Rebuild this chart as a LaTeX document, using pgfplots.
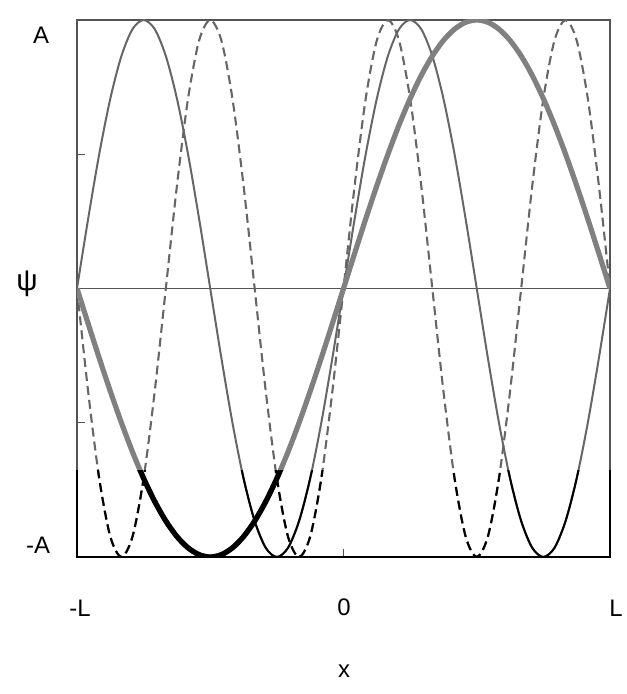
\documentclass[border=0pt]{standalone}
\usepackage{fontspec}
\setmainfont{Liberation Sans}
\usepackage{pgfplots}
\pgfplotsset{compat=1.18}
\usepackage{pgfplotstable}

% Standing-wave modes on [-L, L], amplitude A (x in units of L, psi in units of A)
\pgfplotstableread{
x       n1      n2      n3
-1      0       0       0
-0.9583 -0.1305 0.2588  -0.3827
-0.9167 -0.2588 0.5     -0.7071
-0.875  -0.3827 0.7071  -0.9239
-0.8333 -0.5    0.8660  -1
-0.7917 -0.6088 0.9659  -0.9239
-0.75   -0.7071 1       -0.7071
-0.7083 -0.7934 0.9659  -0.3827
-0.6667 -0.8660 0.8660  0
-0.625  -0.9239 0.7071  0.3827
-0.5833 -0.9659 0.5     0.7071
-0.5417 -0.9914 0.2588  0.9239
-0.5    -1      0       1
-0.4583 -0.9914 -0.2588 0.9239
-0.4167 -0.9659 -0.5    0.7071
-0.375  -0.9239 -0.7071 0.3827
-0.3333 -0.8660 -0.8660 0
-0.2917 -0.7934 -0.9659 -0.3827
-0.25   -0.7071 -1      -0.7071
-0.2083 -0.6088 -0.9659 -0.9239
-0.1667 -0.5    -0.8660 -1
-0.125  -0.3827 -0.7071 -0.9239
-0.0833 -0.2588 -0.5    -0.7071
-0.0417 -0.1305 -0.2588 -0.3827
0       0       0       0
0.0417  0.1305  0.2588  0.3827
0.0833  0.2588  0.5     0.7071
0.125   0.3827  0.7071  0.9239
0.1667  0.5     0.8660  1
0.2083  0.6088  0.9659  0.9239
0.25    0.7071  1       0.7071
0.2917  0.7934  0.9659  0.3827
0.3333  0.8660  0.8660  0
0.375   0.9239  0.7071  -0.3827
0.4167  0.9659  0.5     -0.7071
0.4583  0.9914  0.2588  -0.9239
0.5     1       0       -1
0.5417  0.9914  -0.2588 -0.9239
0.5833  0.9659  -0.5    -0.7071
0.625   0.9239  -0.7071 -0.3827
0.6667  0.8660  -0.8660 0
0.7083  0.7934  -0.9659 0.3827
0.75    0.7071  -1      0.7071
0.7917  0.6088  -0.9659 0.9239
0.8333  0.5     -0.8660 1
0.875   0.3827  -0.7071 0.9239
0.9167  0.2588  -0.5    0.7071
0.9583  0.1305  -0.2588 0.3827
1       0       0       0
}\modes

\definecolor{thickgray}{gray}{0.50}
\definecolor{thingray}{gray}{0.40}
\definecolor{framegray}{gray}{0.33}

\begin{document}
\begin{tikzpicture}[x=1bp,y=1bp]
\path[use as bounding box] (-77,-137) rectangle (550,557);
\begin{axis}[
  at={(0,0)}, anchor=south west,
  scale only axis, width=533bp, height=537bp,
  xmin=-1, xmax=1, ymin=-1, ymax=1,
  clip mode=individual,
  axis line style={draw=framegray, line width=1.3bp},
  xtick={0}, ytick={-0.5,0.5},
  xticklabels={}, yticklabels={},
  tick align=inside, tick pos=left,
  major tick length=8bp,
  tick style={framegray, line width=1.3bp},
]
% zero line
\addplot[framegray, line width=1.5bp] coordinates {(-1,0) (1,0)};
% three modes
\addplot[thingray, line width=2.1bp, dash pattern=on 9bp off 5bp, smooth] table[y=n3] {\modes};
\addplot[thingray, line width=2bp, smooth] table[y=n2] {\modes};
\addplot[thickgray, line width=5.2bp, smooth] table[y=n1] {\modes};
% darker lower band
\begin{scope}
  \clip (axis cs:-1.2,-1.2) rectangle (axis cs:1.2,-0.676);
  \addplot[black, line width=2.1bp, dash pattern=on 9bp off 5bp, smooth] table[y=n3] {\modes};
  \addplot[black, line width=2bp, smooth] table[y=n2] {\modes};
  \addplot[black, line width=5.2bp, smooth] table[y=n1] {\modes};
  \draw[black, line width=1.8bp] (axis cs:-1,-1) rectangle (axis cs:1,1);
\end{scope}
\end{axis}
\begin{scope}[font=\fontsize{24}{28}\selectfont]
  \node at (-36,522) {A};
  \node at (-39,12) {-A};
  \node[font=\fontsize{30}{34}\selectfont] at (-50,273) {ψ};
  \node at (3,-51) {-L};
  \node at (267,-50) {0};
  \node at (539,-51) {L};
  \node at (267,-114) {x};
\end{scope}
\end{tikzpicture}
\end{document}
